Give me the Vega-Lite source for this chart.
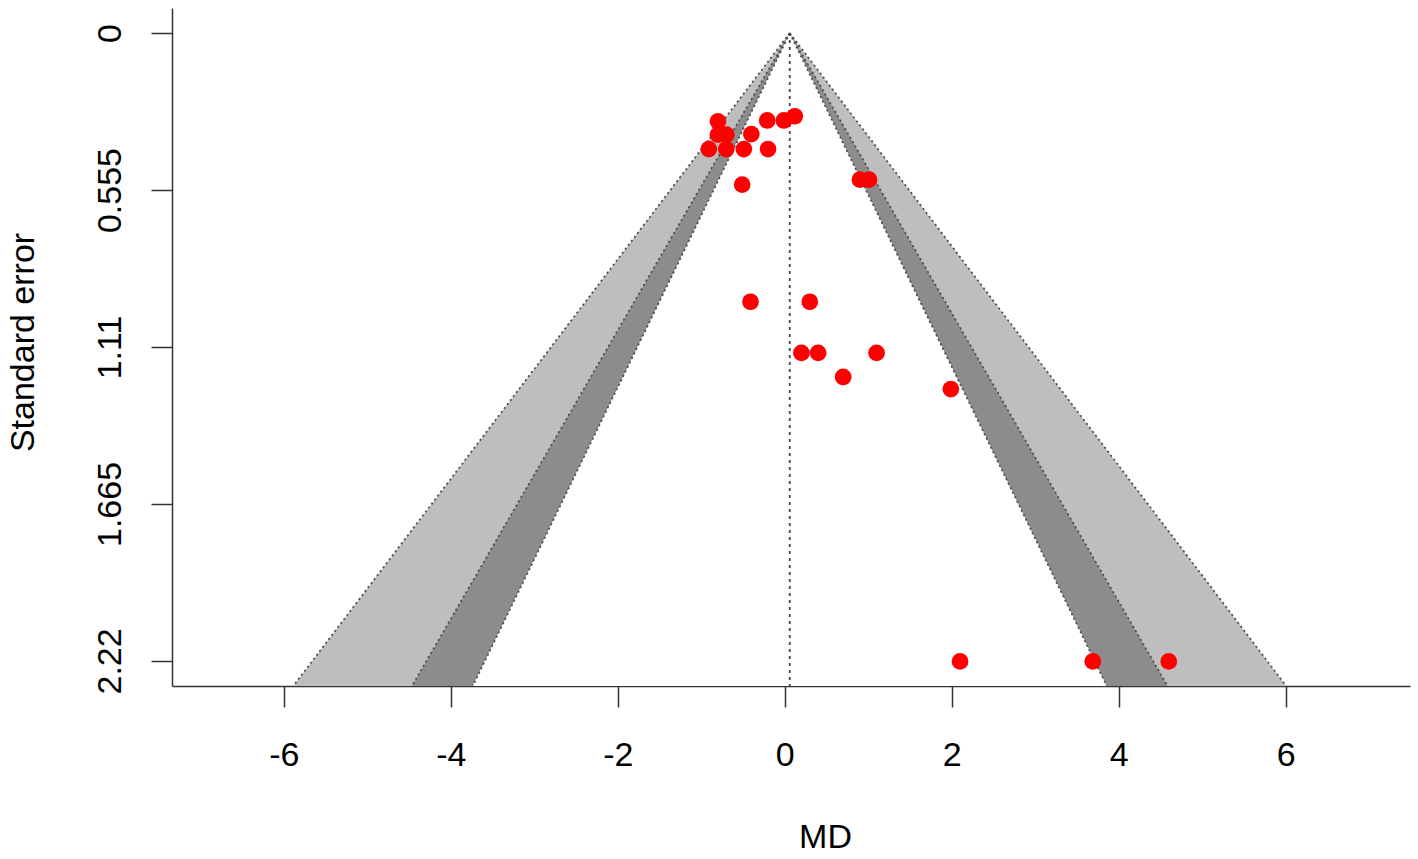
{
  "$schema": "https://vega.github.io/schema/vega-lite/v6.json",
  "width": 1238,
  "height": 678,
  "autosize": {"type": "none"},
  "padding": {"left": 172, "top": 8, "right": 8, "bottom": 173},
  "background": "white",
  "config": {
    "view": {"stroke": null},
    "font": "Liberation Sans"
  },
  "datasets": {
    "funnel": [
      {"level": "99", "se": 0, "lo": 0.06, "hi": 0.06},
      {"level": "99", "se": 2.3088, "lo": -5.887, "hi": 6.007},
      {"level": "95", "se": 0, "lo": 0.06, "hi": 0.06},
      {"level": "95", "se": 2.3088, "lo": -4.465, "hi": 4.585},
      {"level": "90", "se": 0, "lo": 0.06, "hi": 0.06},
      {"level": "90", "se": 2.3088, "lo": -3.738, "hi": 3.858}
    ],
    "edges": [
      {"edge": "99L", "se": 0, "x": 0.06}, {"edge": "99L", "se": 2.3088, "x": -5.887},
      {"edge": "99R", "se": 0, "x": 0.06}, {"edge": "99R", "se": 2.3088, "x": 6.007},
      {"edge": "95L", "se": 0, "x": 0.06}, {"edge": "95L", "se": 2.3088, "x": -4.465},
      {"edge": "95R", "se": 0, "x": 0.06}, {"edge": "95R", "se": 2.3088, "x": 4.585},
      {"edge": "90L", "se": 0, "x": 0.06}, {"edge": "90L", "se": 2.3088, "x": -3.738},
      {"edge": "90R", "se": 0, "x": 0.06}, {"edge": "90R", "se": 2.3088, "x": 3.858}
    ],
    "center": [{"c": 0.06, "s0": 0, "s1": 2.3088}],
    "studies": [
      {"md": -0.80, "se": 0.312},
      {"md": -0.21, "se": 0.309},
      {"md": -0.01, "se": 0.309},
      {"md": 0.12, "se": 0.294},
      {"md": -0.80, "se": 0.359},
      {"md": -0.70, "se": 0.359},
      {"md": -0.40, "se": 0.357},
      {"md": -0.91, "se": 0.41},
      {"md": -0.70, "se": 0.41},
      {"md": -0.49, "se": 0.41},
      {"md": -0.20, "se": 0.41},
      {"md": -0.51, "se": 0.536},
      {"md": 0.90, "se": 0.518},
      {"md": 1.01, "se": 0.518},
      {"md": -0.41, "se": 0.95},
      {"md": 0.30, "se": 0.95},
      {"md": 0.20, "se": 1.131},
      {"md": 0.40, "se": 1.131},
      {"md": 1.10, "se": 1.131},
      {"md": 0.70, "se": 1.216},
      {"md": 1.99, "se": 1.259},
      {"md": 2.10, "se": 2.222},
      {"md": 3.69, "se": 2.222},
      {"md": 4.60, "se": 2.222}
    ]
  },
  "layer": [
    {
      "data": {"name": "funnel"},
      "transform": [{"filter": "datum.level == '99'"}],
      "mark": {"type": "area", "orient": "horizontal", "color": "#BEBEBE"},
      "encoding": {
        "y": {"field": "se", "type": "quantitative",
              "scale": {"domain": [-0.0888, 2.3088], "reverse": true, "nice": false, "zero": false},
              "axis": {
                "values": [0, 0.555, 1.11, 1.665, 2.22],
                "labelExpr": "'' + datum.value",
                "grid": false,
                "domainColor": "#333333",
                "domainWidth": 1.5,
                "tickColor": "#333333",
                "tickWidth": 1.5,
                "tickSize": 21,
                "labelAngle": -90,
                "labelAlign": "center",
                "labelBaseline": "alphabetic",
                "labelPadding": 31,
                "labelFontSize": 34,
                "labelColor": "#000000",
                "labelFont": "Liberation Sans",
                "title": "Standard error",
                "titleFont": "Liberation Sans",
                "titleFontSize": 34,
                "titleFontWeight": "normal",
                "titleColor": "#000000",
                "titleAngle": -90,
                "titleAlign": "center",
                "titleBaseline": "alphabetic",
                "titleX": -139,
                "titleY": 334
              }},
        "x": {"field": "lo", "type": "quantitative",
              "scale": {"domain": [-7.34, 7.49], "nice": false, "zero": false},
              "axis": {
                "values": [-6, -4, -2, 0, 2, 4, 6],
                "labelExpr": "'' + datum.value",
                "grid": false,
                "domainColor": "#333333",
                "domainWidth": 1.5,
                "tickColor": "#333333",
                "tickWidth": 1.5,
                "tickSize": 21,
                "labelBaseline": "alphabetic",
                "labelPadding": 58,
                "labelFontSize": 34,
                "labelColor": "#000000",
                "labelFont": "Liberation Sans",
                "title": "MD",
                "titleFont": "Liberation Sans",
                "titleFontSize": 34,
                "titleFontWeight": "normal",
                "titleColor": "#000000",
                "titleAlign": "center",
                "titleBaseline": "alphabetic",
                "titleX": 653,
                "titleY": 161
              }},
        "x2": {"field": "hi"}
      }
    },
    {
      "data": {"name": "funnel"},
      "transform": [{"filter": "datum.level == '95'"}],
      "mark": {"type": "area", "orient": "horizontal", "color": "#8C8C8C"},
      "encoding": {
        "y": {"field": "se", "type": "quantitative"},
        "x": {"field": "lo", "type": "quantitative"},
        "x2": {"field": "hi"}
      }
    },
    {
      "data": {"name": "funnel"},
      "transform": [{"filter": "datum.level == '90'"}],
      "mark": {"type": "area", "orient": "horizontal", "color": "#FFFFFF"},
      "encoding": {
        "y": {"field": "se", "type": "quantitative"},
        "x": {"field": "lo", "type": "quantitative"},
        "x2": {"field": "hi"}
      }
    },
    {
      "data": {"name": "edges"},
      "mark": {"type": "line", "color": "#4d4d4d", "strokeWidth": 1.8, "strokeDash": [2, 3]},
      "encoding": {
        "y": {"field": "se", "type": "quantitative"},
        "x": {"field": "x", "type": "quantitative"},
        "detail": {"field": "edge"},
        "order": {"field": "se", "type": "quantitative"}
      }
    },
    {
      "data": {"name": "center"},
      "mark": {"type": "rule", "color": "#444444", "strokeWidth": 1.8, "strokeDash": [3, 4]},
      "encoding": {
        "x": {"field": "c", "type": "quantitative"},
        "y": {"field": "s0", "type": "quantitative"},
        "y2": {"field": "s1"}
      }
    },
    {
      "data": {"name": "studies"},
      "mark": {"type": "point", "shape": "circle", "filled": true, "color": "#FF0000", "opacity": 1, "size": 280},
      "encoding": {
        "x": {"field": "md", "type": "quantitative"},
        "y": {"field": "se", "type": "quantitative"}
      }
    }
  ]
}
